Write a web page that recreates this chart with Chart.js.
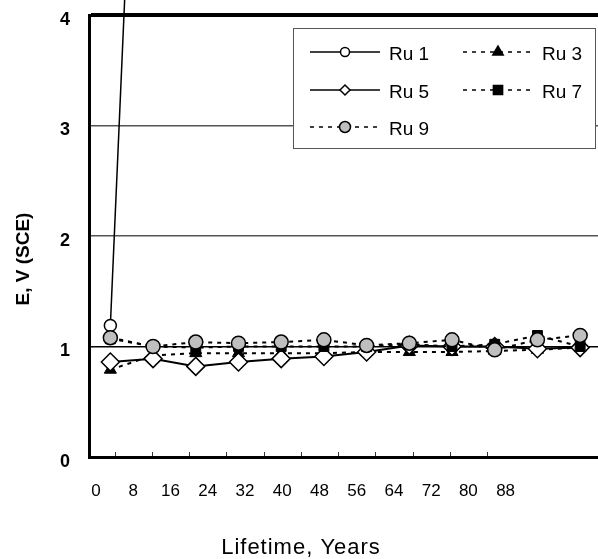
<!DOCTYPE html>
<html>
<head>
<meta charset="utf-8">
<script src="https://cdn.jsdelivr.net/npm/chart.js@4.4.1/dist/chart.umd.min.js"></script>
<style>
  html, body { margin: 0; padding: 0; overflow: hidden; background: #fff; }
  #wrap { position: relative; width: 612px; height: 559px; }
</style>
</head>
<body>
<div id="wrap"><canvas id="graficaVida" width="612" height="559"></canvas></div>
<script>
// categorias (anos) y valores
const years = ['0', '8', '16', '24', '32', '40', '48', '56', '64', '72', '80', '88'];
const tickYears = [0, 8, 16, 24, 32, 40, 48, 56, 64, 72, 80, 88];
const tickMarks = [4, 12, 20, 28, 36, 44, 52, 60, 68, 76, 84];
const yTicks = [0, 1, 2, 3, 4];

const ru1 = [1.19, 10, null, null, null, null, null, null, null, null, null, null];
const ru3 = [0.79, 0.92, 0.94, 0.94, 0.94, 0.94, 0.95, 0.95, 0.95, 0.96, 0.97, 0.99];
const ru5 = [0.86, 0.89, 0.82, 0.86, 0.89, 0.91, 0.95, 1.01, 1.0, 1.0, 0.98, 0.99];
const ru7 = [1.07, 1.0, 0.99, 1.0, 1.0, 1.0, 1.0, 1.02, 1.0, 1.02, 1.10, 1.0];
const ru9 = [1.08, 1.0, 1.04, 1.03, 1.04, 1.06, 1.01, 1.03, 1.06, 0.97, 1.06, 1.10];

const FONT = "'Liberation Sans', Arial, sans-serif";
const GRAY = '#bfbfbf';

const legendItems = [
  { text: 'Ru 1', col: 0, row: 0, dash: [], style: 'circle', radius: 4.5, fill: '#fff' },
  { text: 'Ru 3', col: 1, row: 0, dash: [4, 5], style: 'triangle', radius: 6, fill: '#000' },
  { text: 'Ru 5', col: 0, row: 1, dash: [], style: 'rectRot', radius: 5, fill: '#fff' },
  { text: 'Ru 7', col: 1, row: 1, dash: [4, 5], style: 'rect', radius: 6.5, fill: '#000' },
  { text: 'Ru 9', col: 0, row: 2, dash: [4, 5], style: 'circle', radius: 5.5, fill: GRAY }
];

const extras = {
  id: 'extras',
  afterDraw(chart) {
    const ctx = chart.ctx;
    const area = chart.chartArea;
    const sx = chart.scales.x2;

    // small tick marks inside the axis
    ctx.save();
    ctx.strokeStyle = '#333';
    ctx.lineWidth = 1;
    tickMarks.forEach(v => {
      const x = Math.round(sx.getPixelForValue(v)) + 0.5;
      ctx.beginPath();
      ctx.moveTo(x, area.bottom - 1);
      ctx.lineTo(x, area.bottom - 5);
      ctx.stroke();
    });
    ctx.restore();

    // legend box
    ctx.save();
    ctx.fillStyle = '#fff';
    ctx.fillRect(293, 28, 302, 120);
    ctx.strokeStyle = '#555';
    ctx.lineWidth = 1;
    ctx.strokeRect(293.5, 28.5, 302, 120);
    const colX = [{ l0: 310, l1: 380, m: 345, t: 389 }, { l0: 463, l1: 530, m: 498, t: 542 }];
    const rowY = [52, 90, 127];
    legendItems.forEach(it => {
      const c = colX[it.col];
      const y = rowY[it.row];
      ctx.strokeStyle = '#000';
      ctx.lineWidth = 1.5;
      ctx.setLineDash(it.dash);
      ctx.beginPath();
      ctx.moveTo(c.l0, y);
      ctx.lineTo(c.l1, y);
      ctx.stroke();
      ctx.setLineDash([]);
      ctx.fillStyle = it.fill;
      ctx.strokeStyle = '#000';
      ctx.lineWidth = 1.5;
      Chart.helpers.drawPoint(ctx, { pointStyle: it.style, radius: it.radius, borderWidth: 1.5, rotation: 0 }, c.m, y);
      ctx.fillStyle = '#000';
      ctx.font = '19px ' + FONT;
      ctx.textAlign = 'left';
      ctx.textBaseline = 'middle';
      ctx.fillText(it.text, c.t, y + 3);
    });
    ctx.restore();

    // axis titles
    ctx.save();
    ctx.fillStyle = '#000';
    ctx.textAlign = 'center';
    ctx.textBaseline = 'middle';
    ctx.font = 'bold 19px ' + FONT;
    ctx.translate(24, 259);
    ctx.rotate(-Math.PI / 2);
    ctx.fillText('E, V (SCE)', 0, 0);
    ctx.restore();

    ctx.save();
    ctx.fillStyle = '#000';
    ctx.textAlign = 'center';
    ctx.textBaseline = 'middle';
    ctx.font = '22px ' + FONT;
    ctx.letterSpacing = '1px';
    ctx.fillText('Lifetime, Years', 301, 548);
    ctx.restore();
  }
};

const ctx = document.getElementById('graficaVida').getContext('2d');

new Chart(ctx, {
  type: 'line',
  data: {
    labels: years,
    datasets: [
      {
        label: 'Ru 9', data: ru9, order: 0,
        borderColor: '#000', borderWidth: 2, borderDash: [4, 5],
        pointStyle: 'circle', pointRadius: 7, pointBackgroundColor: GRAY,
        pointBorderColor: '#000', pointBorderWidth: 1.5
      },
      {
        label: 'Ru 7', data: ru7, order: 1,
        borderColor: '#000', borderWidth: 2, borderDash: [4, 5],
        pointStyle: 'rect', pointRadius: 7, pointBackgroundColor: '#000',
        pointBorderColor: '#000', pointBorderWidth: 1
      },
      {
        label: 'Ru 5', data: ru5, order: 2,
        borderColor: '#000', borderWidth: 2,
        pointStyle: 'rectRot', pointRadius: 9, pointBackgroundColor: '#fff',
        pointBorderColor: '#000', pointBorderWidth: 1.5
      },
      {
        label: 'Ru 3', data: ru3, order: 3,
        borderColor: '#000', borderWidth: 2, borderDash: [4, 5],
        pointStyle: 'triangle', pointRadius: 7, pointBackgroundColor: '#000',
        pointBorderColor: '#000', pointBorderWidth: 1
      },
      {
        label: 'Ru 1', data: ru1, order: 4, clip: false,
        borderColor: '#000', borderWidth: 1.5,
        pointStyle: 'circle', pointRadius: 6, pointBackgroundColor: '#fff',
        pointBorderColor: '#000', pointBorderWidth: 1.5
      }
    ]
  },
  options: {
    responsive: false,
    animation: false,
    layout: { padding: { top: 15, right: 7, left: 0, bottom: 0 } },
    plugins: {
      legend: { display: false },
      tooltip: { enabled: false }
    },
    scales: {
      x: {
        type: 'category',
        offset: true,
        display: false
      },
      x2: {
        type: 'linear',
        position: 'bottom',
        min: -1.5,
        max: 108.6,
        afterBuildTicks: s => { s.ticks = tickYears.map(v => ({ value: v })); },
        afterFit: s => { s.height = 102; s.paddingTop = 0; s.paddingBottom = 0; },
        grid: { drawOnChartArea: false, drawTicks: false },
        border: { color: '#000', width: 3 },
        ticks: {
          autoSkip: false, maxRotation: 0, padding: 24, color: '#000',
          font: { family: FONT, size: 17 }
        }
      },
      y: {
        min: 0,
        max: 4,
        afterBuildTicks: s => { s.ticks = yTicks.map(v => ({ value: v })); },
        afterFit: s => { s.width = 89; s.paddingTop = 0; s.paddingBottom = 0; },
        border: { color: '#000', width: 3 },
        grid: {
          drawTicks: false,
          color: c => (c.tick.value === 1 || c.tick.value === 4) ? '#000' : '#555',
          lineWidth: c => c.tick.value === 4 ? 4 : (c.tick.value === 0 ? 0 : 1.5)
        },
        ticks: {
          padding: 19, color: '#000', labelOffset: 5,
          font: { family: FONT, size: 18, weight: 'bold' }
        }
      }
    }
  },
  plugins: [extras]
});
</script>
</body>
</html>
